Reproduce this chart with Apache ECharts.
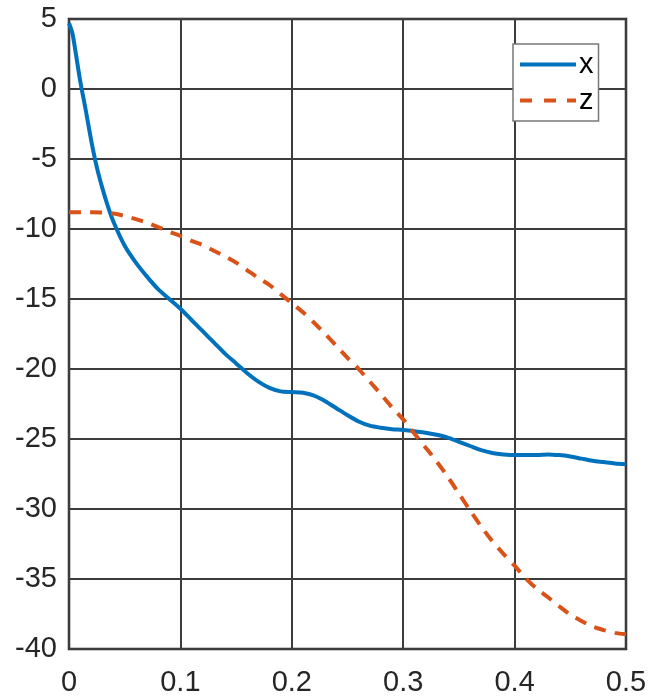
<!DOCTYPE html>
<html>
<head>
<meta charset="utf-8">
<script src="https://cdn.jsdelivr.net/npm/echarts@6/dist/echarts.min.js"></script>
<style>
  html, body { margin: 0; padding: 0; background: #fff; }
  #chart { width: 664px; height: 698px; }
</style>
</head>
<body>
<div id="chart"></div>
<script>
// sample times for each curve
var tx = [0, 0.003, 0.006, 0.01, 0.015, 0.02, 0.025, 0.03, 0.035, 0.04, 0.05, 0.06, 0.07, 0.08, 0.09,
  0.10, 0.11, 0.12, 0.13, 0.14, 0.15, 0.16, 0.17, 0.18, 0.19, 0.20, 0.21, 0.22, 0.23, 0.24,
  0.25, 0.26, 0.27, 0.28, 0.29, 0.30, 0.31, 0.32, 0.33, 0.34, 0.35, 0.36, 0.37, 0.38, 0.39,
  0.40, 0.41, 0.42, 0.43, 0.44, 0.45, 0.46, 0.47, 0.48, 0.49, 0.50];
var xVals = [4.7, 4.0, 2.6, 0.6, -1.5, -3.7, -5.6, -7.1, -8.4, -9.5, -11.2, -12.4, -13.4, -14.3, -15.0,
  -15.7, -16.5, -17.3, -18.1, -18.9, -19.6, -20.3, -20.9, -21.35, -21.6, -21.65, -21.7, -21.9, -22.3, -22.8,
  -23.3, -23.75, -24.05, -24.2, -24.3, -24.35, -24.45, -24.55, -24.7, -24.9, -25.2, -25.5, -25.8, -26.0, -26.1,
  -26.15, -26.15, -26.15, -26.1, -26.15, -26.25, -26.4, -26.55, -26.65, -26.75, -26.8];

var tz = [0, 0.01, 0.02, 0.03, 0.04, 0.05, 0.06, 0.07, 0.08, 0.09,
  0.10, 0.11, 0.12, 0.13, 0.14, 0.15, 0.16, 0.17, 0.18, 0.19, 0.20, 0.21, 0.22, 0.23, 0.24,
  0.25, 0.26, 0.27, 0.28, 0.29, 0.30, 0.31, 0.32, 0.33, 0.34, 0.35, 0.36, 0.37, 0.38, 0.39,
  0.40, 0.41, 0.42, 0.43, 0.44, 0.45, 0.46, 0.47, 0.48, 0.49, 0.50];
var zVals = [-8.8, -8.8, -8.8, -8.82, -8.9, -9.07, -9.3, -9.55, -9.87, -10.2,
  -10.5, -10.85, -11.15, -11.55, -11.95, -12.4, -12.95, -13.5, -14.0, -14.65, -15.3, -15.95, -16.7, -17.5, -18.35,
  -19.2, -20.0, -20.9, -21.8, -22.75, -23.6, -24.6, -25.6, -26.6, -27.7, -28.9, -30.1, -31.25, -32.3, -33.2,
  -34.05, -34.95, -35.7, -36.3, -36.95, -37.55, -38.0, -38.4, -38.65, -38.85, -38.95];

var seriesNames = ['x', 'z'];

function pairs(ts, vs) {
  var out = [];
  for (var i = 0; i < ts.length; ++i) {
    out.push([ts[i], vs[i]]);
  }
  return out;
}

var myChart = echarts.init(document.getElementById('chart'));
var font = '"Liberation Sans", Arial, sans-serif';
var gridLine = { show: true, lineStyle: { color: '#3c3c3c', width: 2 } };

// legend swatches: solid bar and a dashed bar, 56x4
var solidIcon = 'path://M0,0H56V4H0Z';
var dashIcon = 'path://M0,0H12V4H0Z M24,0H36V4H24Z M47,0H56V4H47Z';

var option = {
  animation: false,
  grid: {
    left: 69, right: 38, top: 19, bottom: 49,
    show: true, borderColor: '#222', borderWidth: 2.5
  },
  legend: {
    orient: 'vertical',
    left: 513, top: 44,
    padding: [6, 5, 6, 7],
    itemWidth: 56, itemHeight: 4, itemGap: 7,
    backgroundColor: '#fff',
    borderColor: '#777', borderWidth: 1.5,
    textStyle: { fontFamily: font, fontSize: 29, color: '#000', padding: [0, 0, 0, -2] },
    data: [
      { name: seriesNames[0], icon: solidIcon },
      { name: seriesNames[1], icon: dashIcon }
    ]
  },
  xAxis: {
    type: 'value', min: 0, max: 0.5, interval: 0.1,
    axisLine: { show: false },
    axisTick: { show: false },
    splitLine: gridLine,
    axisLabel: {
      fontFamily: font, fontSize: 29, color: '#262626', margin: 19,
      formatter: function (v) { return v === 0 ? '0' : v.toFixed(1); }
    }
  },
  yAxis: {
    type: 'value', min: -40, max: 5, interval: 5,
    axisLine: { show: false },
    axisTick: { show: false },
    splitLine: gridLine,
    axisLabel: { fontFamily: font, fontSize: 29, color: '#262626', margin: 12 }
  },
  series: [{
    name: seriesNames[0],
    type: 'line',
    symbol: 'none',
    smooth: 0.3,
    data: pairs(tx, xVals),
    lineStyle: { color: '#0072BD', width: 4 },
    itemStyle: { color: '#0072BD' }
  }, {
    name: seriesNames[1],
    type: 'line',
    symbol: 'none',
    smooth: 0.3,
    data: pairs(tz, zVals),
    lineStyle: { color: '#D95319', width: 4, type: [12, 9] },
    itemStyle: { color: '#D95319' }
  }]
};

myChart.setOption(option);
</script>
</body>
</html>
